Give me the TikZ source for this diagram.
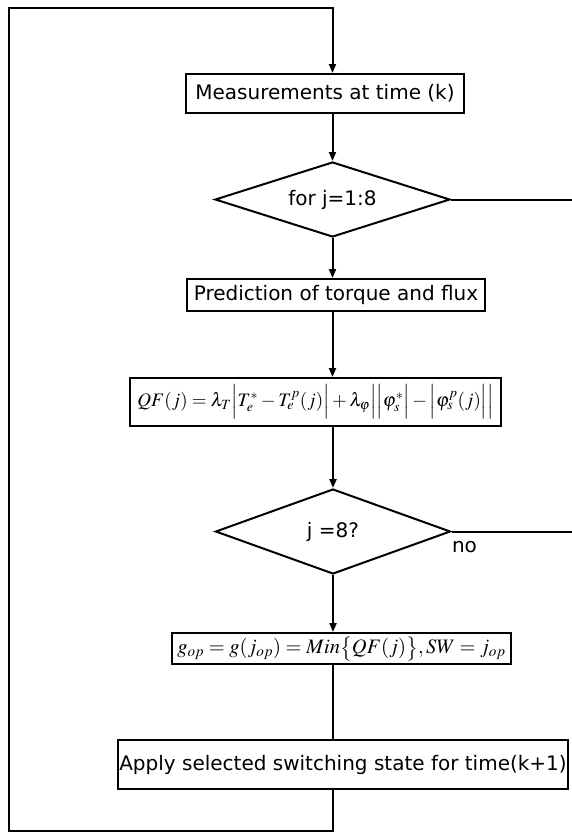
\documentclass[tikz,border=0pt]{standalone}
\usepackage{amsmath}
\usepackage{mathptmx}
\usepackage{fontspec}
\setmainfont{DejaVu Sans}
\usetikzlibrary{arrows.meta,shapes.geometric}

\tikzset{
  blk/.style={draw, inner sep=0pt, font=\fontsize{20}{24}\selectfont},
  dec/.style={draw, diamond, inner sep=0pt, font=\fontsize{20}{24}\selectfont},
  eqn/.style={draw, inner sep=0pt, font=\fontsize{19}{22}\selectfont},
}

\begin{document}
\begin{tikzpicture}[x=1pt,y=-1pt,line width=2pt,>={Triangle[length=9pt,width=7pt]}]
  \useasboundingbox (0,0) rectangle (572,833);
  % blocks of the flow, top to bottom
  \node[blk,minimum width=278pt,minimum height=39pt] (meas) at (325,93.5) {Measurements at time (k)};
  \node[dec,shape aspect=3.1,minimum width=235pt,minimum height=75pt] (forj) at (332.5,199.5) {for j=1:8};
  \node[blk,minimum width=298pt,minimum height=32pt] (pred) at (336,295) {Prediction of torque and flux};
  \node[eqn,minimum width=371pt,minimum height=48pt] (qf) at (315.5,402)
    {$QF(j)=\lambda_T\Bigl|T_e^{*}-T_e^{p}(j)\Bigr|+\lambda_\varphi\Bigl|\Bigl|\varphi_s^{*}\Bigr|-\Bigl|\varphi_s^{p}(j)\Bigr|\Bigr|$};
  \node[dec,shape aspect=2.8,minimum width=235pt,minimum height=85pt] (jend) at (333,531.5) {j =8?};
  \node[eqn,font=\fontsize{20.5}{24}\selectfont,minimum width=339pt,minimum height=31pt] (gop) at (341.5,648.5)
    {$g_{op}=g(j_{op})=Min\bigl\{QF(j)\bigr\},SW=j_{op}$};
  \node[blk,minimum width=450pt,minimum height=49pt] (apply) at (343,764.5) {Apply selected switching state for time(k+1)};
  \node[font=\fontsize{20}{24}\selectfont,anchor=north west,inner sep=1pt] (nolab) at (450,539) {no};

  \coordinate (out1) at (572,199.5);
  \coordinate (out2) at (572,531.5);
  \coordinate (lbot) at (332.5,831);
  \coordinate (ltop) at (9,8);

  \draw[->] (meas.south -| forj.north) -- (forj.north);
  \draw[->] (forj.south) -- (pred.north -| forj.south);
  \draw[->] (pred.south -| forj.south) -- (qf.north -| forj.south);
  \draw[->,line width=2.8pt] (qf.south -| jend.north) -- (jend.north);
  \draw[->] (jend.south) -- (gop.north -| jend.south);
  \draw (gop.south -| jend.south) -- (apply.north -| jend.south);
  \draw (forj.east) -- (out1);
  \draw (jend.east) -- (out2);
  % feedback to next sample
  \draw[->] (apply.south -| lbot) -- (lbot) -| (ltop) -| (meas.north -| forj.north);
\end{tikzpicture}
\end{document}
